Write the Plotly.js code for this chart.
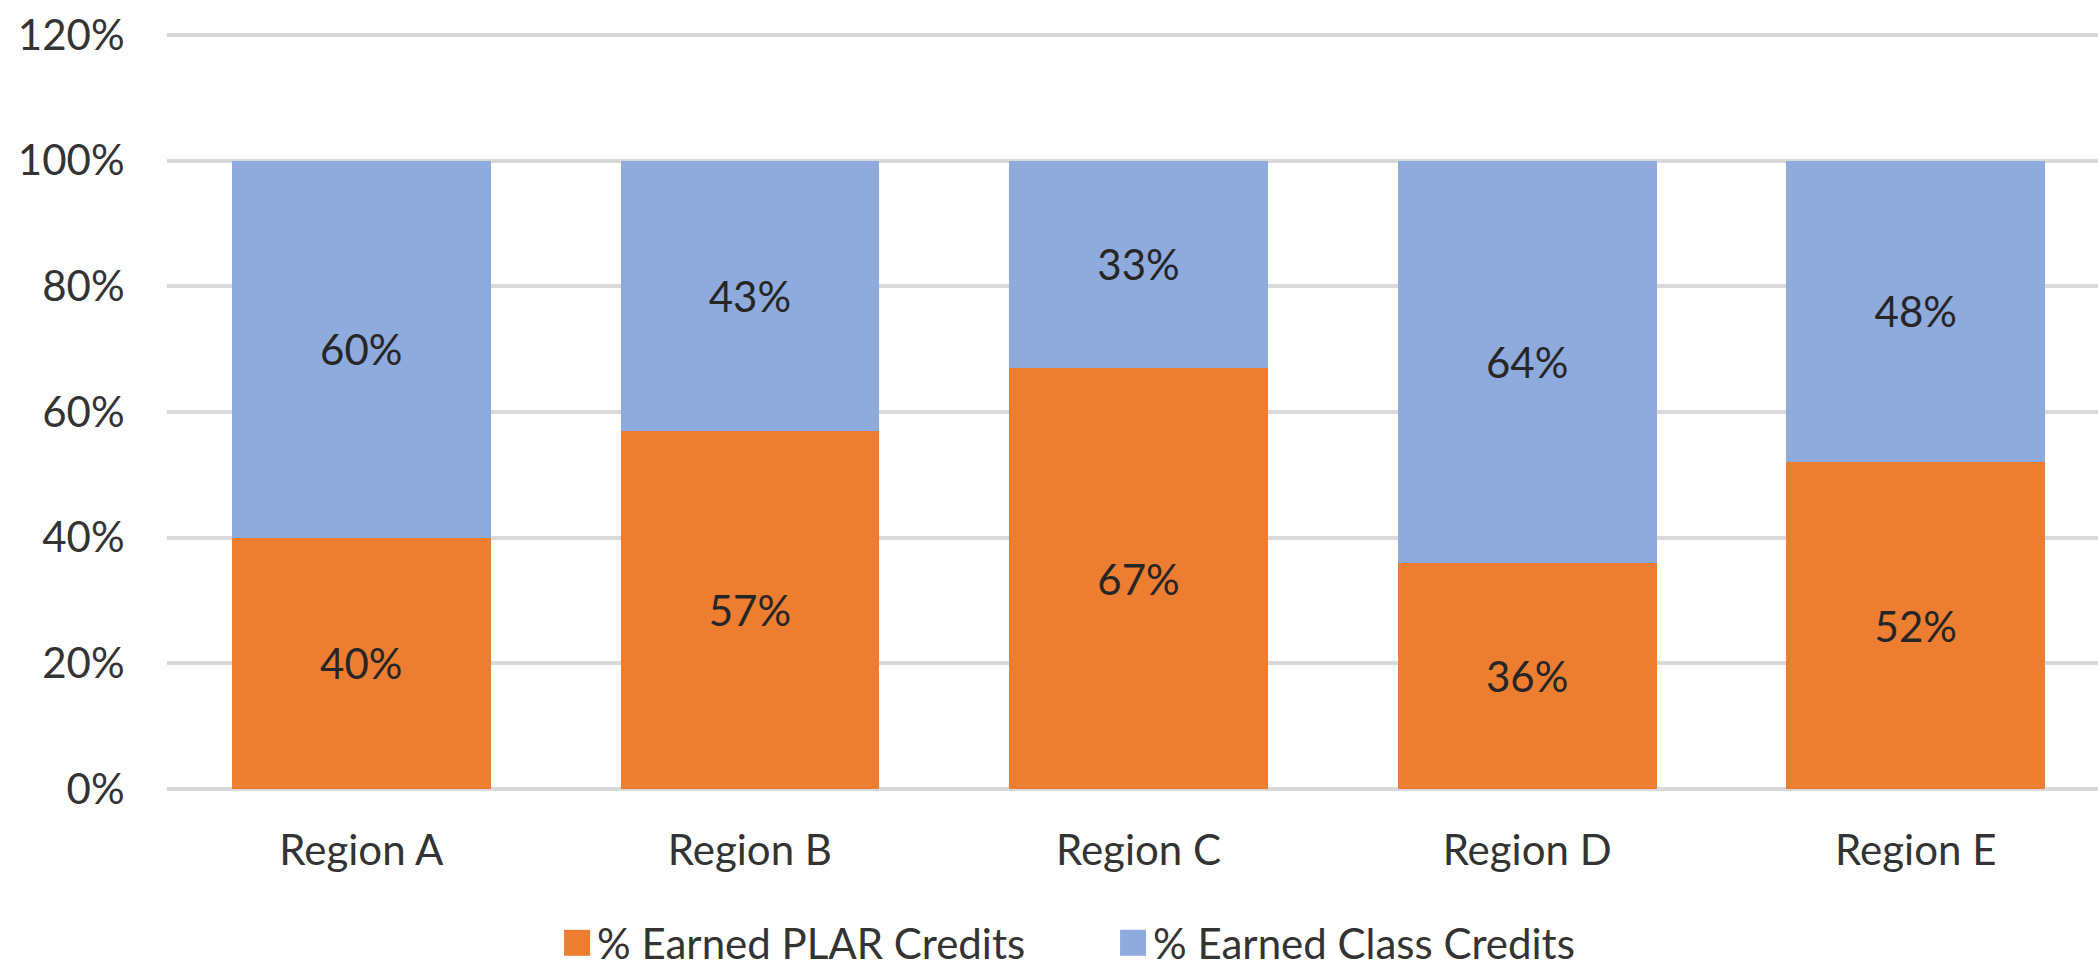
<!DOCTYPE html>
<html>
<head>
<meta charset="utf-8">
<script src="https://cdn.plot.ly/plotly-3.0.1.min.js"></script>
<style>html,body{margin:0;padding:0;background:#fff;}#chart{width:2098px;height:977px;}</style>
</head>
<body>
<div id="chart"></div>
<script>
var categories = ["Region A", "Region B", "Region C", "Region D", "Region E"];
var plarCredits = [0.40, 0.57, 0.67, 0.36, 0.52];
var classCredits = [0.60, 0.43, 0.33, 0.64, 0.48];
var seriesNames = ["% Earned PLAR Credits", "% Earned Class Credits"];
var yTickVals = [0, 0.2, 0.4, 0.6, 0.8, 1.0, 1.2];
var yTickText = ["0%", "20%", "40%", "60%", "80%", "100%", "120%"];

var FONT = "Lato, 'Open Sans', sans-serif";
var TEXT_COLOR = "#333333";
var labelFont = {family: FONT, size: 42, color: "#262626"};

var traces = [
  {
    type: "bar", name: seriesNames[0], x: categories, y: plarCredits,
    marker: {color: "#ED7D31"},
    texttemplate: "%{y:.0%}", textposition: "inside", insidetextanchor: "middle",
    textfont: labelFont, hoverinfo: "skip"
  },
  {
    type: "bar", name: seriesNames[1], x: categories, y: classCredits,
    marker: {color: "#8FAADC"},
    texttemplate: "%{y:.0%}", textposition: "inside", insidetextanchor: "middle",
    textfont: labelFont, hoverinfo: "skip"
  }
];

var layout = {
  width: 2098, height: 977,
  margin: {l: 167, r: 0, t: 33, b: 186, pad: 0, autoexpand: false},
  paper_bgcolor: "#fff", plot_bgcolor: "#fff",
  barmode: "stack",
  bargap: 0.334,
  font: {family: FONT, size: 42, color: TEXT_COLOR},
  showlegend: true,
  legend: {
    orientation: "h", x: 0.202, xanchor: "left", y: -0.2454, yanchor: "bottom",
    entrywidth: 511, entrywidthmode: "pixels",
    font: {family: FONT, size: 42, color: TEXT_COLOR},
    traceorder: "normal"
  },
  xaxis: {
    type: "category",
    range: [-0.5, 4.469],
    showgrid: false, zeroline: false, showline: false,
    ticks: "outside", ticklen: 23, tickcolor: "rgba(0,0,0,0)",
    tickfont: {family: FONT, size: 42, color: TEXT_COLOR}
  },
  yaxis: {
    range: [-0.003, 1.203],
    tickvals: yTickVals, ticktext: yTickText,
    showgrid: true, gridcolor: "#D9D9D9", gridwidth: 4,
    zeroline: false, showline: false,
    ticks: "outside", ticklen: 33, tickcolor: "rgba(0,0,0,0)",
    tickfont: {family: FONT, size: 42, color: TEXT_COLOR}
  }
};

Plotly.newPlot("chart", traces, layout, {displayModeBar: false, staticPlot: true}).then(function () {
  var pts = document.querySelectorAll(".legendpoints path");
  pts.forEach(function (p) { p.setAttribute("d", "M13,13H-13V-13H13Z"); });
});
</script>
</body>
</html>
